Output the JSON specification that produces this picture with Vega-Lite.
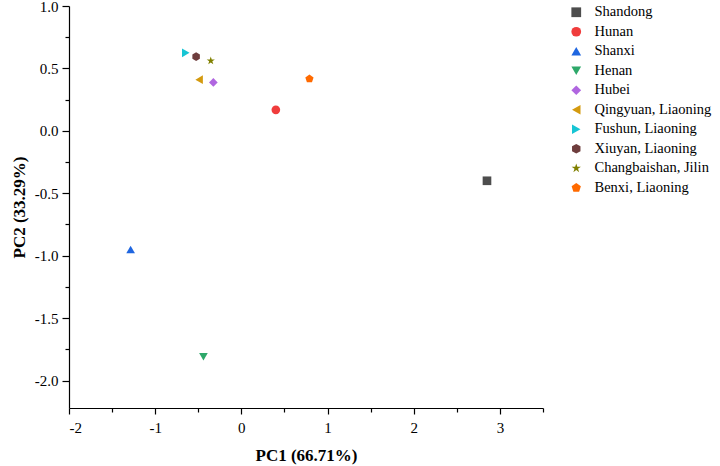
{
  "$schema": "https://vega.github.io/schema/vega-lite/v6.json",
  "width": 474,
  "height": 402,
  "autosize": {"type": "none"},
  "padding": {"left": 69, "top": 6, "right": 177, "bottom": 58},
  "background": "white",
  "config": {
    "view": {"stroke": null},
    "font": "Liberation Serif"
  },
  "data": {
    "values": [
      {"site": "Shandong", "pc1": 2.85, "pc2": -0.40},
      {"site": "Hunan", "pc1": 0.40, "pc2": 0.168},
      {"site": "Shanxi", "pc1": -1.285, "pc2": -0.95},
      {"site": "Henan", "pc1": -0.44, "pc2": -1.81},
      {"site": "Hubei", "pc1": -0.325, "pc2": 0.388},
      {"site": "Qingyuan, Liaoning", "pc1": -0.49, "pc2": 0.41},
      {"site": "Fushun, Liaoning", "pc1": -0.645, "pc2": 0.625},
      {"site": "Xiuyan, Liaoning", "pc1": -0.525, "pc2": 0.595},
      {"site": "Changbaishan, Jilin", "pc1": -0.355, "pc2": 0.561},
      {"site": "Benxi, Liaoning", "pc1": 0.79, "pc2": 0.417}
    ]
  },
  "mark": {"type": "point", "filled": true, "opacity": 1, "size": 75},
  "encoding": {
    "x": {
      "field": "pc1", "type": "quantitative",
      "scale": {"domain": [-2, 3.5], "nice": false, "zero": false},
      "axis": {
        "title": "PC1 (66.71%)",
        "values": [-2, -1.5, -1, -0.5, 0, 0.5, 1, 1.5, 2, 2.5, 3, 3.5],
        "labelExpr": "abs(datum.value - round(datum.value)) < 0.001 ? (datum.value < 0 ? '-' : '') + format(abs(datum.value), 'd') : ''",
        "grid": false,
        "domainColor": "black",
        "domainWidth": 1.2,
        "tickColor": "black",
        "tickWidth": 1.2,
        "tickSize": {"condition": {"test": "abs(datum.value - round(datum.value)) < 0.001", "value": 6}, "value": 4},
        "labelFont": "Liberation Serif",
        "labelFontSize": 15,
        "labelColor": "black",
        "labelPadding": 6,
        "titleFont": "Liberation Serif",
        "titleFontSize": 17,
        "titleFontWeight": "bold",
        "titleColor": "black",
        "titlePadding": 12
      }
    },
    "y": {
      "field": "pc2", "type": "quantitative",
      "scale": {"domain": [-2.22, 1.0], "nice": false, "zero": false},
      "axis": {
        "title": "PC2 (33.29%)",
        "values": [-2, -1.75, -1.5, -1.25, -1, -0.75, -0.5, -0.25, 0, 0.25, 0.5, 0.75, 1],
        "labelExpr": "abs(datum.value * 2 - round(datum.value * 2)) < 0.001 ? (datum.value < 0 ? '-' : '') + format(abs(datum.value), '.1f') : ''",
        "grid": false,
        "domainColor": "black",
        "domainWidth": 1.2,
        "tickColor": "black",
        "tickWidth": 1.2,
        "tickSize": {"condition": {"test": "abs(datum.value * 2 - round(datum.value * 2)) < 0.001", "value": 7}, "value": 4},
        "labelFont": "Liberation Serif",
        "labelFontSize": 15,
        "labelColor": "black",
        "labelPadding": 4,
        "titleFont": "Liberation Serif",
        "titleFontSize": 17,
        "titleFontWeight": "bold",
        "titleColor": "black",
        "titlePadding": 6
      }
    },
    "color": {
      "field": "site", "type": "nominal",
      "scale": {
        "domain": ["Shandong", "Hunan", "Shanxi", "Henan", "Hubei", "Qingyuan, Liaoning", "Fushun, Liaoning", "Xiuyan, Liaoning", "Changbaishan, Jilin", "Benxi, Liaoning"],
        "range": ["#4d4d4d", "#f03c3c", "#1f66e0", "#2ea86a", "#b066e0", "#d49a0f", "#17c5d4", "#6e3d3d", "#808000", "#ff6a00"]
      },
      "legend": {
        "title": null,
        "orient": "none",
        "legendX": 500,
        "legendY": -1,
        "labelFont": "Liberation Serif",
        "labelFontSize": 14.5,
        "labelColor": "black",
        "rowPadding": 4.5,
        "labelOffset": 11,
        "symbolSize": 95
      }
    },
    "shape": {
      "field": "site", "type": "nominal",
      "scale": {
        "domain": ["Shandong", "Hunan", "Shanxi", "Henan", "Hubei", "Qingyuan, Liaoning", "Fushun, Liaoning", "Xiuyan, Liaoning", "Changbaishan, Jilin", "Benxi, Liaoning"],
        "range": ["square", "circle", "triangle-up", "triangle-down", "diamond", "triangle-left", "triangle-right",
          "M0,-1L0.866,-0.5L0.866,0.5L0,1L-0.866,0.5L-0.866,-0.5Z",
          "M0,-1L0.2245,-0.309L0.951,-0.309L0.363,0.118L0.588,0.809L0,0.382L-0.588,0.809L-0.363,0.118L-0.951,-0.309L-0.2245,-0.309Z",
          "M0,-1L0.951,-0.309L0.588,0.809L-0.588,0.809L-0.951,-0.309Z"]
      }
    }
  }
}
